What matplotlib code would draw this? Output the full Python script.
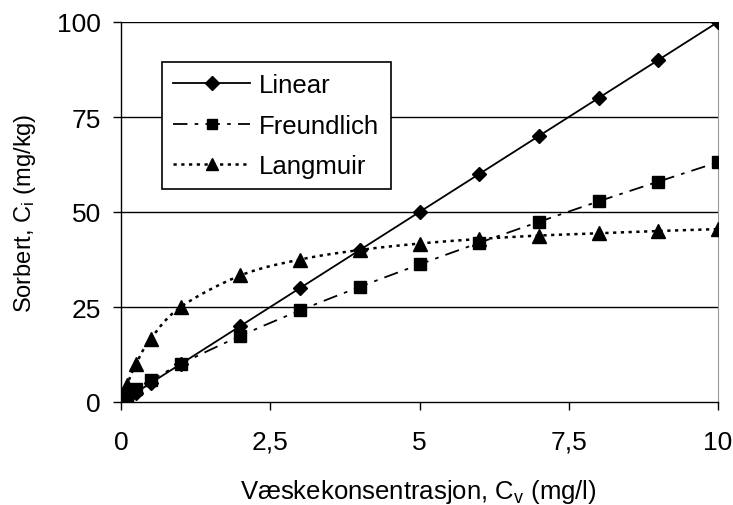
import numpy as np
import matplotlib
matplotlib.use("Agg")
import matplotlib.pyplot as plt
from matplotlib.lines import Line2D

plt.rcParams['font.family'] = ['Liberation Sans', 'DejaVu Sans']
plt.rcParams['mathtext.fontset'] = 'custom'
plt.rcParams['mathtext.rm'] = 'Liberation Sans'
plt.rcParams['mathtext.it'] = 'Liberation Sans'

x = [0, 0.05, 0.1, 0.25, 0.5, 1, 2, 3, 4, 5, 6, 7, 8, 9, 10]
linear = [0, 0.5, 1, 2.5, 5, 10, 20, 30, 40, 50, 60, 70, 80, 90, 100]
freundlich = [0, 0.9, 1.6, 3.3, 5.7, 10, 17.4, 24.1, 30.3, 36.2, 41.9, 47.4, 52.8, 58.0, 63.1]
langmuir = [0, 2.4, 4.5, 10, 16.7, 25, 33.3, 37.5, 40, 41.7, 42.9, 43.8, 44.4, 45.0, 45.5]
xticks = [0, 2.5, 5, 7.5, 10]
xticklabels = ['0', '2,5', '5', '7,5', '10']
yticks = [0, 25, 50, 75, 100]


def smooth(xs, ys, n=20):
    xs = np.asarray(xs, float)
    ys = np.asarray(ys, float)
    px = np.concatenate([[2 * xs[0] - xs[1]], xs, [2 * xs[-1] - xs[-2]]])
    py = np.concatenate([[2 * ys[0] - ys[1]], ys, [2 * ys[-1] - ys[-2]]])
    ox, oy = [], []
    for i in range(1, len(px) - 2):
        t = np.linspace(0, 1, n, endpoint=False)
        for P, out in ((px, ox), (py, oy)):
            p0, p1, p2, p3 = P[i - 1], P[i], P[i + 1], P[i + 2]
            m1 = (p2 - p0) / 2
            m2 = (p3 - p1) / 2
            h00 = 2 * t**3 - 3 * t**2 + 1
            h10 = t**3 - 2 * t**2 + t
            h01 = -2 * t**3 + 3 * t**2
            h11 = t**3 - t**2
            out.extend(h00 * p1 + h10 * m1 + h01 * p2 + h11 * m2)
    ox.append(xs[-1]); oy.append(ys[-1])
    return np.array(ox), np.array(oy)


fig = plt.figure(figsize=(7.33, 5.06), dpi=100)
ax = fig.add_axes([121 / 733, 103 / 506, 597 / 733, 380 / 506])

for yv in yticks[1:]:
    ax.axhline(yv, color='black', lw=1.0, zorder=1)

lw = 1.3
fr_ls = (0, (8, 4, 2, 4))
la_ls = (0, (1.3, 1.8))
ax.plot(x, linear, color='black', lw=lw, zorder=3)
ax.plot(x, linear, ls='none', marker='D', ms=7.5, color='black', zorder=4)

sx, sy = smooth(x, freundlich)
ax.plot(sx, sy, color='black', lw=lw, ls=fr_ls, zorder=3)
ax.plot(x, freundlich, ls='none', marker='s', ms=8, color='black', zorder=4)

sx, sy = smooth(x, langmuir)
ax.plot(sx, sy, color='black', lw=1.8, ls=la_ls, zorder=3)
ax.plot(x, langmuir, ls='none', marker='^', ms=9.5, color='black', zorder=4)

handles = [
    Line2D([], [], color='black', lw=lw, marker='D', ms=7.5),
    Line2D([], [], color='black', lw=lw, ls=fr_ls, marker='s', ms=7.5),
    Line2D([], [], color='black', lw=1.8, ls=la_ls, marker='^', ms=8.5),
]
leg = ax.legend(handles, ['Linear', 'Freundlich', 'Langmuir'], loc='upper left',
                bbox_to_anchor=(0.068, 0.895), borderaxespad=0, fancybox=False,
                framealpha=1, edgecolor='black', fontsize=18.5, handlelength=3.0,
                labelspacing=0.63, borderpad=0.45, handletextpad=0.35)
leg.get_frame().set_linewidth(1.2)
leg.set_zorder(5)

ax.set_xlim(0, 10)
ax.set_ylim(0, 100)
ax.set_xticks(xticks)
ax.set_xticklabels(xticklabels)
ax.set_yticks(yticks)
ax.tick_params(direction='out', length=6, width=1, labelsize=19)
ax.tick_params(axis='x', pad=14)
ax.tick_params(axis='y', pad=8.5)
ax.spines['top'].set_visible(False)
ax.spines['right'].set_color('#999999')
for s in ('left', 'bottom'):
    ax.spines[s].set_linewidth(1.0)

ax.set_xlabel('Væskekonsentrasjon, C$_{\\mathrm{v}}$ (mg/l)', fontsize=18.5, va='baseline')
ax.set_ylabel('Sorbert, C$_{\\mathrm{i}}$ (mg/kg)', fontsize=17, va='center')
ax.xaxis.set_label_coords((418 - 121) / 597, (403 - 499) / 380)
ax.yaxis.set_label_coords((25 - 121) / 597, 0.5)

fig.savefig('out.png', dpi=100)
